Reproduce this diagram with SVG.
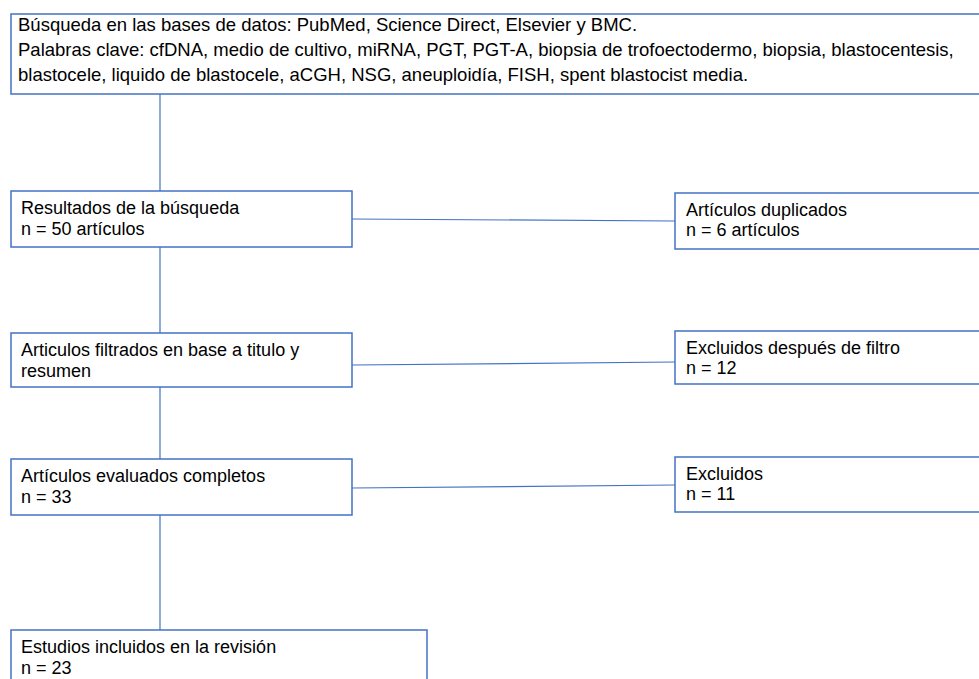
<svg xmlns="http://www.w3.org/2000/svg" width="979" height="679" viewBox="0 0 979 679">
<style>
.box{fill:#fff;stroke:#4472C4;stroke-width:1.5}
.t{font-family:"Liberation Sans",Arial,sans-serif;font-size:18px;fill:#000}
.tt{font-family:"Liberation Sans",Arial,sans-serif;font-size:18.5px;fill:#000}
.c{stroke:#4472C4;stroke-width:1.2;fill:none}
</style>
<rect width="979" height="679" fill="#fff"/>
<g id="connectors">
<line class="c" x1="160" y1="94" x2="160" y2="191"/>
<line class="c" x1="160" y1="247" x2="160" y2="333"/>
<line class="c" x1="160" y1="387" x2="160" y2="459"/>
<line class="c" x1="160" y1="515" x2="160" y2="630"/>
<line class="c" x1="352" y1="219" x2="675" y2="221"/>
<line class="c" x1="352" y1="365" x2="675" y2="362"/>
<line class="c" x1="352" y1="488" x2="675" y2="485"/>
</g>
<g id="n-busqueda">
<rect class="box" x="11" y="14" width="980" height="80"/>
<text class="tt" x="18" y="31">Búsqueda en las bases de datos: PubMed, Science Direct, Elsevier y BMC.</text>
<text class="tt" x="18" y="56">Palabras clave: cfDNA, medio de cultivo, miRNA, PGT, PGT-A, biopsia de trofoectodermo, biopsia, blastocentesis,</text>
<text class="tt" x="18" y="81">blastocele, liquido de blastocele, aCGH, NSG, aneuploidía, FISH, spent blastocist media.</text>
</g>
<g id="n-resultados">
<rect class="box" x="11" y="191" width="341" height="56"/>
<text class="t" x="21" y="214">Resultados de la búsqueda</text>
<text class="t" x="21" y="235">n = 50 artículos</text>
</g>
<g id="n-duplicados">
<rect class="box" x="675" y="193" width="320" height="56"/>
<text class="t" x="686" y="216">Artículos duplicados</text>
<text class="t" x="686" y="236">n = 6 artículos</text>
</g>
<g id="n-filtrados">
<rect class="box" x="11" y="333" width="341" height="54"/>
<text class="t" x="21" y="356">Articulos filtrados en base a titulo y</text>
<text class="t" x="21" y="377">resumen</text>
</g>
<g id="n-excluidos-filtro">
<rect class="box" x="675" y="331" width="320" height="53"/>
<text class="t" x="686" y="354">Excluidos después de filtro</text>
<text class="t" x="686" y="374">n = 12</text>
</g>
<g id="n-evaluados">
<rect class="box" x="11" y="459" width="341" height="56"/>
<text class="t" x="21" y="482">Artículos evaluados completos</text>
<text class="t" x="21" y="503">n = 33</text>
</g>
<g id="n-excluidos">
<rect class="box" x="675" y="457" width="320" height="55"/>
<text class="t" x="686" y="480">Excluidos</text>
<text class="t" x="686" y="500">n = 11</text>
</g>
<g id="n-estudios">
<rect class="box" x="11" y="630" width="416" height="70"/>
<text class="t" x="21" y="653">Estudios incluidos en la revisión</text>
<text class="t" x="21" y="674">n = 23</text>
</g>
</svg>
